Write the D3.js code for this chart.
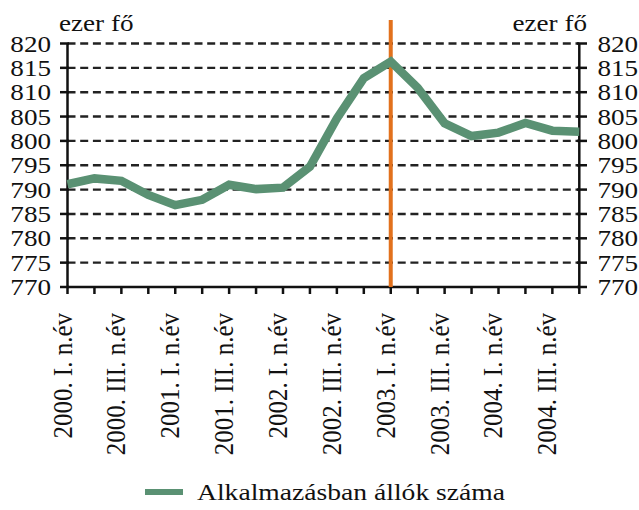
<!DOCTYPE html>
<html><head><meta charset="utf-8">
<script src="https://cdn.jsdelivr.net/npm/d3@7"></script>
<style>body{margin:0;background:#fff}svg{display:block}</style>
</head><body>
<script>
const quarters = ["2000. I. n.év","2000. II. n.év","2000. III. n.év","2000. IV. n.év",
"2001. I. n.év","2001. II. n.év","2001. III. n.év","2001. IV. n.év",
"2002. I. n.év","2002. II. n.év","2002. III. n.év","2002. IV. n.év",
"2003. I. n.év","2003. II. n.év","2003. III. n.év","2003. IV. n.év",
"2004. I. n.év","2004. II. n.év","2004. III. n.év","2004. IV. n.év"];
const employed = [791.1,792.3,791.8,788.9,786.8,787.9,791.0,790.1,790.4,794.7,
804.6,812.9,816.3,810.9,803.6,801.0,801.7,803.7,802.1,801.9];
const yTicks = [770,775,780,785,790,795,800,805,810,815,820];
const labelQuarters = quarters.filter((d,i)=>i%2===0);
const markerQuarter = "2003. I. n.év";
const unitLabel = "ezer fő";
const seriesName = "Alkalmazásban állók száma";

const W=639,H=510, SX=1.13, FS=24;
const svg=d3.select("body").append("svg").attr("width",W).attr("height",H);
const x=d3.scalePoint().domain(quarters).range([67.5,579.3]);
const y=d3.scaleLinear().domain([770,820]).range([287,43.5]);
const font="'Liberation Serif','Times New Roman',serif";

// grid
svg.append("g").selectAll("line").data(yTicks.filter(v=>v>770)).join("line")
 .attr("x1",x.range()[0]).attr("x2",x.range()[1]).attr("y1",d=>y(d)).attr("y2",d=>y(d))
 .attr("stroke","#222").attr("stroke-width",2.4).attr("stroke-dasharray","8,4.7");

// axes
const ax=svg.append("g").attr("stroke","#111").attr("stroke-width",2.5);
ax.append("line").attr("x1",x.range()[0]).attr("x2",x.range()[0]).attr("y1",y(820)).attr("y2",y(770)+1);
ax.append("line").attr("x1",x.range()[1]).attr("x2",x.range()[1]).attr("y1",y(820)).attr("y2",y(770)+1);
ax.append("line").attr("x1",x.range()[0]).attr("x2",x.range()[1]).attr("y1",y(770)).attr("y2",y(770));
ax.selectAll(".tl").data(yTicks).join("line").attr("x1",60).attr("x2",69).attr("y1",d=>y(d)).attr("y2",d=>y(d));
ax.selectAll(".tr").data(yTicks).join("line").attr("x1",577).attr("x2",587).attr("y1",d=>y(d)).attr("y2",d=>y(d));
ax.selectAll(".tb").data(quarters).join("line").attr("x1",d=>x(d)).attr("x2",d=>x(d)).attr("y1",y(770)).attr("y2",y(770)+7);

// y labels
const tg=svg.append("g").attr("font-family",font).attr("font-size",FS).attr("fill","#111");
yTicks.forEach(v=>{
  tg.append("text").attr("transform",`translate(51,${y(v)+8}) scale(${SX},1)`).attr("text-anchor","end").text(v);
  tg.append("text").attr("transform",`translate(597.5,${y(v)+8}) scale(${SX},1)`).attr("text-anchor","start").text(v);
});
tg.append("text").attr("transform",`translate(59,31) scale(${SX},1)`).text(unitLabel);
tg.append("text").attr("transform",`translate(587,31) scale(${SX},1)`).attr("text-anchor","end").text(unitLabel);

// x labels
labelQuarters.forEach(q=>{
  tg.append("text").attr("transform",`translate(${x(q)+4},313) scale(1.08,1) rotate(-90)`)
   .attr("font-size",25).attr("text-anchor","end").text(q);
});

// marker
svg.append("line").attr("x1",x(markerQuarter)).attr("x2",x(markerQuarter)).attr("y1",20).attr("y2",y(770))
 .attr("stroke","#e2711d").attr("stroke-width",4);

// series
svg.append("path").datum(employed).attr("fill","none").attr("stroke","#5a9173").attr("stroke-width",8.5)
 .attr("stroke-linejoin","miter")
 .attr("d",d3.line().x((d,i)=>x(quarters[i])).y(d=>y(d)));

// legend
svg.append("line").attr("x1",145).attr("x2",183).attr("y1",492).attr("y2",492).attr("stroke","#5a9173").attr("stroke-width",6);
tg.append("text").attr("transform",`translate(197,500) scale(1.15,1)`).text(seriesName);
</script>
</body></html>
